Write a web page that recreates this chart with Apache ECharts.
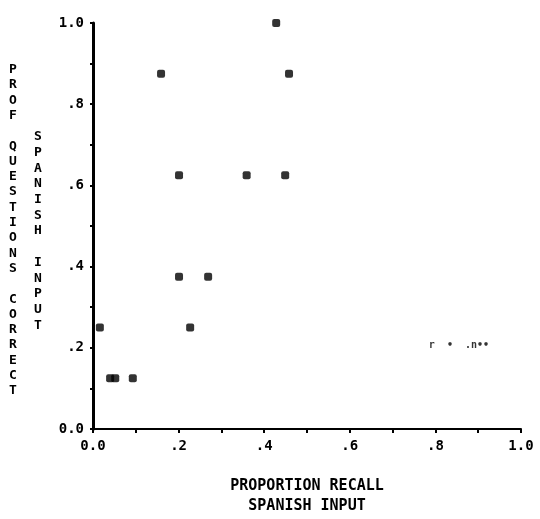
<!DOCTYPE html>
<html>
<head>
<meta charset="utf-8">
<script src="https://cdn.jsdelivr.net/npm/echarts@6/dist/echarts.min.js"></script>
<style>html,body{margin:0;padding:0;background:#fff}#c{width:540px;height:519px}</style>
</head>
<body>
<div id="c"></div>
<script>
var xValues = [0.159, 0.201, 0.359, 0.428, 0.458, 0.449, 0.201, 0.269, 0.016, 0.227, 0.040, 0.052, 0.093];
var yValues = [0.875, 0.625, 0.625, 1.0, 0.875, 0.625, 0.375, 0.375, 0.25, 0.25, 0.125, 0.125, 0.125];
var xTickLabels = ['0.0', '.2', '.4', '.6', '.8', '1.0'];
var yTickLabels = ['0.0', '.2', '.4', '.6', '.8', '1.0'];
var noteText = 'r  •  .n••';
var notePoint = [0.855, 0.207];
var xTitle = 'PROPORTION RECALL\nSPANISH INPUT';
var yTitle1 = 'PROF QUESTIONS CORRECT';
var yTitle2 = 'SPANISH INPUT';

function tickFmt(labels) {
  return function (v) {
    var i = Math.round(v * 10);
    if (i % 2 !== 0) return '';
    return labels[i / 2];
  };
}
var font = '"DejaVu Sans Mono", monospace';
var chart = echarts.init(document.getElementById('c'), null, {renderer: 'canvas'});
var pts = xValues.map(function (x, i) { return [x, yValues[i]]; });
chart.setOption({
  animation: false,
  backgroundColor: '#fff',
  grid: {left: 93, right: 19, top: 23, bottom: 90},
  xAxis: {
    type: 'value', min: 0, max: 1, interval: 0.1,
    axisLine: {show: true, onZero: false, lineStyle: {color: '#000', width: 2}},
    axisTick: {show: true, length: 4, lineStyle: {color: '#000', width: 2}},
    splitLine: {show: false},
    axisLabel: {formatter: tickFmt(xTickLabels), color: '#000', fontFamily: font, fontWeight: 'bold', fontSize: 14, margin: 10}
  },
  yAxis: {
    type: 'value', min: 0, max: 1, interval: 0.1,
    axisLine: {show: true, onZero: false, lineStyle: {color: '#000', width: 3}},
    axisTick: {show: true, length: 3, lineStyle: {color: '#000', width: 2}},
    splitLine: {show: false},
    axisLabel: {formatter: tickFmt(yTickLabels), color: '#000', fontFamily: font, fontWeight: 'bold', fontSize: 14, margin: 9}
  },
  graphic: [
    {type: 'text', x: 13, y: 62, style: {text: yTitle1.split('').join('\n'), font: 'bold 13px ' + font, lineHeight: 15.3, fill: '#000', align: 'center', verticalAlign: 'top'}},
    {type: 'text', x: 38, y: 129, style: {text: yTitle2.split('').join('\n'), font: 'bold 13px ' + font, lineHeight: 15.7, fill: '#000', align: 'center', verticalAlign: 'top'}},
    {type: 'text', x: 307, y: 476, style: {text: xTitle, font: 'bold 15px ' + font, lineHeight: 20, fill: '#000', align: 'center', verticalAlign: 'top'}}
  ],
  series: [
    {type: 'scatter', data: pts, symbol: 'roundRect', symbolSize: 8, itemStyle: {color: '#000'}},
    {type: 'scatter', data: [notePoint], symbolSize: 0,
     label: {show: true, position: 'inside', formatter: noteText, color: '#000', fontFamily: font, fontWeight: 'bold', fontSize: 10}}
  ]
});
</script>
</body>
</html>
